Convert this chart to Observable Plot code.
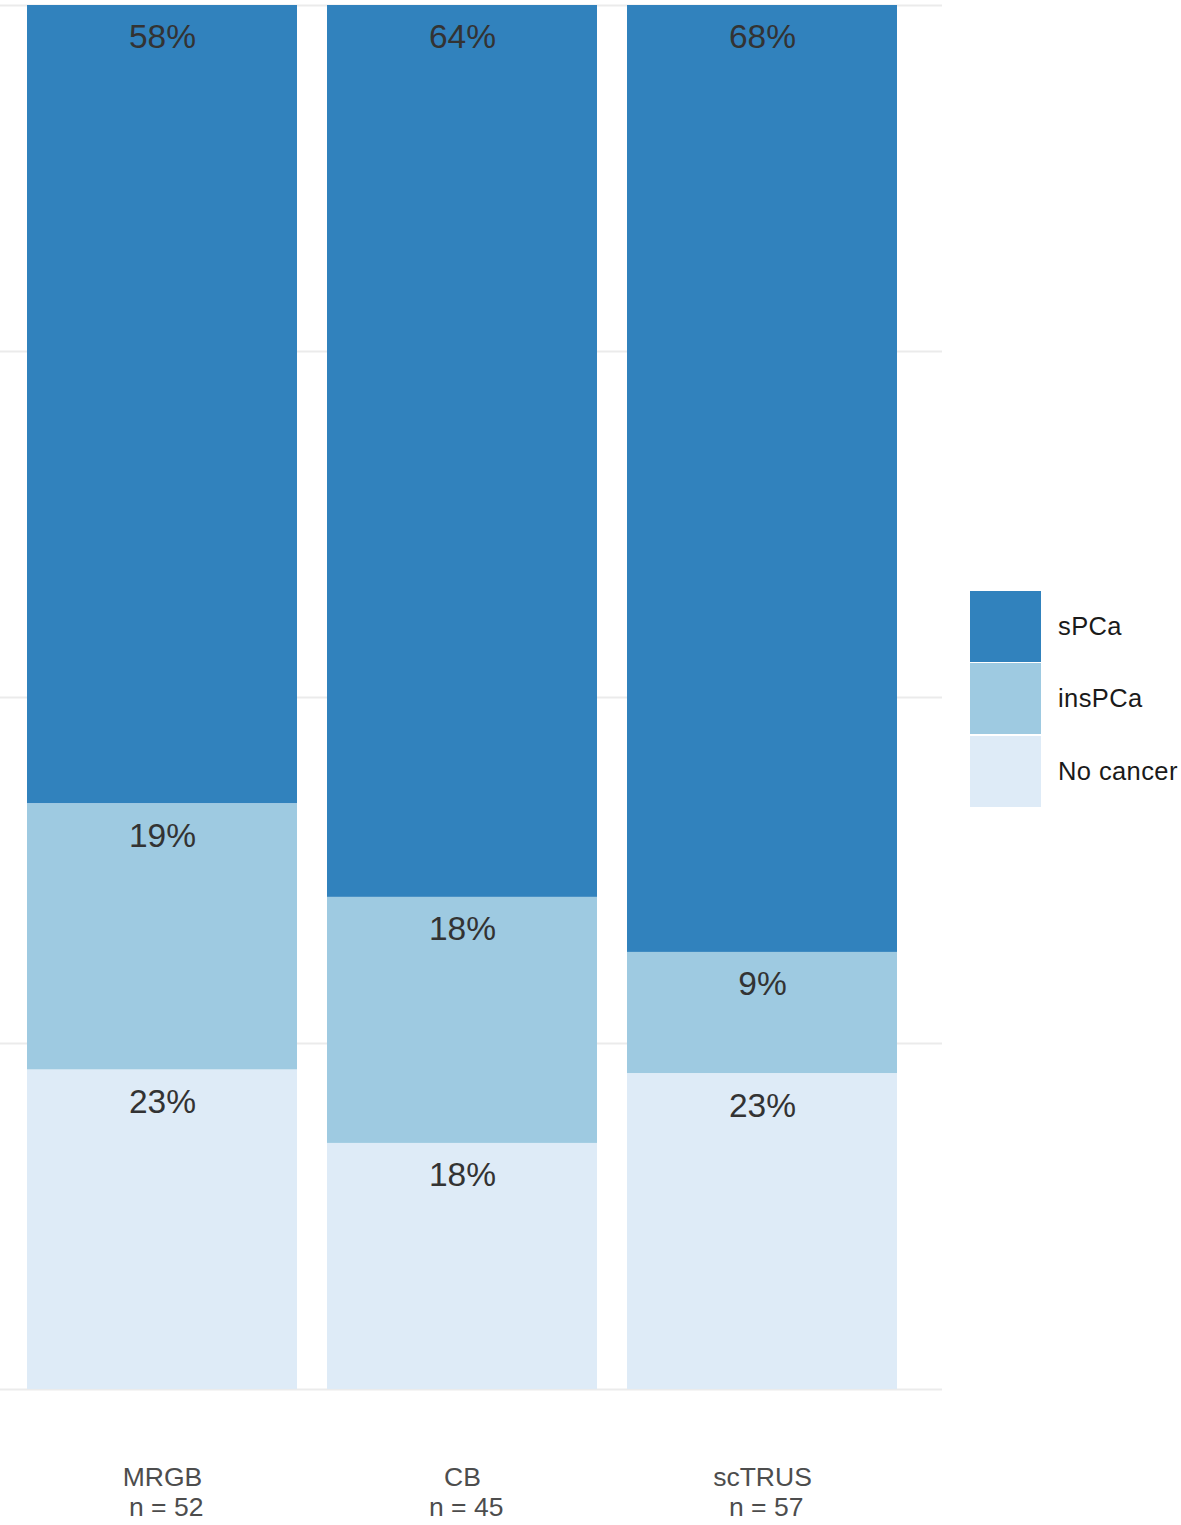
<!DOCTYPE html>
<html>
<head>
<meta charset="utf-8">
<script src="https://cdn.jsdelivr.net/npm/d3@7"></script>
<script src="https://cdn.jsdelivr.net/npm/@observablehq/plot@0.6"></script>
<style>
  html, body { margin: 0; padding: 0; background: #fff; }
  #wrap { position: relative; width: 1181px; height: 1525px; overflow: hidden; font-family: "Liberation Sans", Arial, Helvetica, sans-serif; }
  #legend { position: absolute; left: 970px; top: 590px; }
  .item { display: flex; align-items: center; height: 72.5px; }
  .sw { width: 71px; height: 71px; margin-right: 17px; }
  .lab { font-size: 25.5px; color: #1a1a1a; white-space: nowrap; letter-spacing: 0.4px; }
</style>
</head>
<body>
<div id="wrap"><div id="legend"></div></div>
<script>
const categories = ["MRGB", "CB", "scTRUS"];
const nTotals = [52, 45, 57];
const statuses = ["sPCa", "insPCa", "No cancer"];
const sPCaCounts = [30, 29, 39];
const insPCaCounts = [10, 8, 5];
const noCancerCounts = [12, 8, 13];
const statusColors = ["#3182bd", "#9ecae1", "#deebf7"];
const gridTicks = [0, 0.25, 0.5, 0.75, 1];

const countsByStatus = {"sPCa": sPCaCounts, "insPCa": insPCaCounts, "No cancer": noCancerCounts};
const rows = [];
statuses.forEach(s => categories.forEach((c, i) => {
  rows.push({group: c, status: s, count: countsByStatus[s][i], share: countsByStatus[s][i] / nTotals[i]});
}));
const nByGroup = Object.fromEntries(categories.map((c, i) => [c, nTotals[i]]));
const stackOrder = ["No cancer", "insPCa", "sPCa"];

const chart = Plot.plot({
  width: 1181,
  height: 1525,
  marginLeft: 0,
  marginRight: 239,
  marginTop: 5,
  marginBottom: 136,
  style: {fontFamily: "\"Liberation Sans\", Arial, Helvetica, sans-serif", background: "#fff"},
  x: {domain: categories, range: [-18, 942], paddingInner: 0.1, paddingOuter: 0.15, label: null},
  y: {domain: [0, 1], axis: null},
  color: {domain: statuses, range: statusColors},
  marks: [
    Plot.ruleY(gridTicks, {stroke: "#ebebeb", strokeWidth: 2}),
    Plot.barY(rows, Plot.stackY({x: "group", y: "share", fill: "status", order: stackOrder})),
    Plot.text(rows, Plot.stackY2({
      x: "group", y: "share", z: "status", order: stackOrder,
      text: d => Math.round(d.share * 100) + "%",
      dy: 32, fontSize: 33.5, fill: "#333", lineAnchor: "middle"
    })),
    Plot.axisX({
      tickSize: 0, tickPadding: 75, fontSize: 26.5, lineHeight: 1.13,
      color: "#4d4d4d",
      tickFormat: c => c + "\n" + " n = " + nByGroup[c]
    })
  ]
});
document.getElementById("wrap").prepend(chart);

const legend = document.getElementById("legend");
statuses.forEach((s, i) => {
  const item = document.createElement("div");
  item.className = "item";
  const sw = document.createElement("div");
  sw.className = "sw";
  sw.style.background = statusColors[i];
  const lab = document.createElement("div");
  lab.className = "lab";
  lab.textContent = s;
  item.append(sw, lab);
  legend.append(item);
});
</script>
</body>
</html>
